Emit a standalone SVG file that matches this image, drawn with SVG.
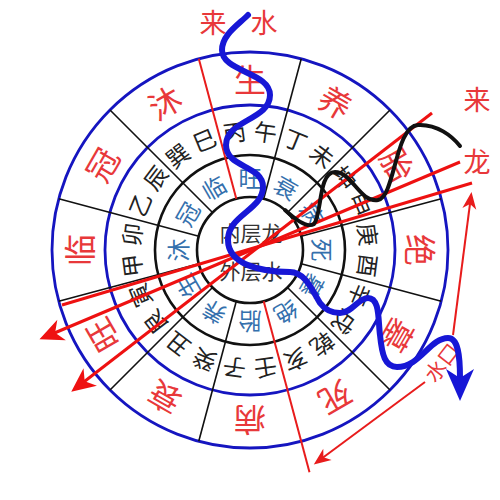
<svg xmlns="http://www.w3.org/2000/svg" width="500" height="500" viewBox="0 0 500 500">
<style>
.bc{fill:none;stroke:#1515c0;stroke-width:2.8}
.kc{fill:none;stroke:#111;stroke-width:2.6}
.dv{stroke:#111;stroke-width:1.6}
.rd{stroke:#e81c1c;stroke-width:2}
.t{font-family:"Noto Sans CJK SC","Noto Sans",sans-serif;text-anchor:middle;dominant-baseline:central}
.o{font-size:32px;fill:#e8383a}
.m{font-size:23px;fill:#222}
.i{font-size:23px;fill:#3470ad}
.c{font-size:21px;fill:#333}
.lb{font-size:27px;fill:#e8383a}
.ar{stroke:#ee1111;stroke-width:3;fill:none}
.ar2{stroke:#e81c1c;stroke-width:2;fill:none}
</style>
<defs>
<marker id="ah" markerUnits="userSpaceOnUse" viewBox="-26 -12 28 24" markerWidth="28" markerHeight="24" refX="-6" refY="0" orient="auto">
<path d="M0,0 L-24,-11 L-17,0 L-24,11 Z" fill="#ee1111"/>
</marker>
<marker id="ah2" markerUnits="userSpaceOnUse" viewBox="-18 -9 20 18" markerWidth="20" markerHeight="18" refX="-4" refY="0" orient="auto">
<path d="M0,0 L-17,-7 L-12,0 L-17,7 Z" fill="#e81c1c"/>
</marker>
</defs>
<rect width="500" height="500" fill="#fff"/>
<g id="rings">
<circle class="bc" cx="250" cy="250" r="198"/>
<circle class="bc" cx="250" cy="250" r="145"/>
<circle class="kc" cx="250" cy="250" r="95"/>
<circle class="kc" cx="250" cy="250" r="53"/>
</g>
<g id="dividers">
<line class="dv" x1="250" y1="197" x2="250" y2="52" transform="rotate(15 250 250)"/>
<line class="dv" x1="250" y1="197" x2="250" y2="52" transform="rotate(45 250 250)"/>
<line class="dv" x1="250" y1="197" x2="250" y2="52" transform="rotate(75 250 250)"/>
<line class="dv" x1="250" y1="197" x2="250" y2="52" transform="rotate(105 250 250)"/>
<line class="dv" x1="250" y1="197" x2="250" y2="52" transform="rotate(135 250 250)"/>
<line class="dv" x1="250" y1="197" x2="250" y2="52" transform="rotate(195 250 250)"/>
<line class="dv" x1="250" y1="197" x2="250" y2="52" transform="rotate(225 250 250)"/>
<line class="dv" x1="250" y1="197" x2="250" y2="52" transform="rotate(255 250 250)"/>
<line class="dv" x1="250" y1="197" x2="250" y2="52" transform="rotate(285 250 250)"/>
<line class="dv" x1="250" y1="197" x2="250" y2="52" transform="rotate(315 250 250)"/>
<line class="rd" x1="236.3" y1="198.8" x2="198.8" y2="58.7"/>
<line class="rd" x1="263.7" y1="301.2" x2="309.5" y2="472.2"/>
</g>
<g id="outer-ring">
<text class="t o" x="250" y="78">生</text>
<text class="t o" x="250" y="78" transform="rotate(30 250 250)">养</text>
<text class="t o" x="250" y="78" transform="rotate(60 250 250)">胎</text>
<text class="t o" x="250" y="78" transform="rotate(90 250 250)">绝</text>
<text class="t o" x="250" y="78" transform="rotate(120 250 250)">墓</text>
<text class="t o" x="250" y="78" transform="rotate(150 250 250)">死</text>
<text class="t o" x="250" y="78" transform="rotate(180 250 250)">病</text>
<text class="t o" x="250" y="78" transform="rotate(210 250 250)">衰</text>
<text class="t o" x="250" y="78" transform="rotate(240 250 250)">旺</text>
<text class="t o" x="250" y="78" transform="rotate(270 250 250)">临</text>
<text class="t o" x="250" y="78" transform="rotate(300 250 250)">冠</text>
<text class="t o" x="250" y="78" transform="rotate(330 250 250)">沐</text>
</g>
<g id="mountain-ring">
<text class="t m" x="250" y="130" transform="rotate(-7.5 250 250)">丙</text>
<text class="t m" x="250" y="130" transform="rotate(7.5 250 250)">午</text>
<text class="t m" x="250" y="130" transform="rotate(22.5 250 250)">丁</text>
<text class="t m" x="250" y="130" transform="rotate(37.5 250 250)">未</text>
<text class="t m" x="250" y="130" transform="rotate(52.5 250 250)">坤</text>
<text class="t m" x="250" y="130" transform="rotate(67.5 250 250)">申</text>
<text class="t m" x="250" y="130" transform="rotate(82.5 250 250)">庚</text>
<text class="t m" x="250" y="130" transform="rotate(97.5 250 250)">酉</text>
<text class="t m" x="250" y="130" transform="rotate(112.5 250 250)">辛</text>
<text class="t m" x="250" y="130" transform="rotate(127.5 250 250)">戌</text>
<text class="t m" x="250" y="130" transform="rotate(142.5 250 250)">乾</text>
<text class="t m" x="250" y="130" transform="rotate(157.5 250 250)">亥</text>
<text class="t m" x="250" y="130" transform="rotate(172.5 250 250)">壬</text>
<text class="t m" x="250" y="130" transform="rotate(187.5 250 250)">子</text>
<text class="t m" x="250" y="130" transform="rotate(202.5 250 250)">癸</text>
<text class="t m" x="250" y="130" transform="rotate(217.5 250 250)">丑</text>
<text class="t m" x="250" y="130" transform="rotate(232.5 250 250)">艮</text>
<text class="t m" x="250" y="130" transform="rotate(247.5 250 250)">寅</text>
<text class="t m" x="250" y="130" transform="rotate(262.5 250 250)">甲</text>
<text class="t m" x="250" y="130" transform="rotate(277.5 250 250)">卯</text>
<text class="t m" x="250" y="130" transform="rotate(292.5 250 250)">乙</text>
<text class="t m" x="250" y="130" transform="rotate(307.5 250 250)">辰</text>
<text class="t m" x="250" y="130" transform="rotate(322.5 250 250)">巽</text>
<text class="t m" x="250" y="130" transform="rotate(337.5 250 250)">巳</text>
</g>
<g id="inner-ring">
<text class="t i" x="250" y="177">旺</text>
<text class="t i" x="250" y="177" transform="rotate(30 250 250)">衰</text>
<text class="t i" x="250" y="177" transform="rotate(60 250 250)">病</text>
<text class="t i" x="250" y="177" transform="rotate(90 250 250)">死</text>
<text class="t i" x="250" y="177" transform="rotate(120 250 250)">墓</text>
<text class="t i" x="250" y="177" transform="rotate(150 250 250)">绝</text>
<text class="t i" x="250" y="177" transform="rotate(180 250 250)">胎</text>
<text class="t i" x="250" y="177" transform="rotate(210 250 250)">养</text>
<text class="t i" x="250" y="177" transform="rotate(240 250 250)">生</text>
<text class="t i" x="250" y="177" transform="rotate(270 250 250)">沐</text>
<text class="t i" x="250" y="177" transform="rotate(300 250 250)">冠</text>
<text class="t i" x="250" y="177" transform="rotate(330 250 250)">临</text>
</g>
<g id="center">
<text class="t c" x="251" y="232">内层龙</text>
<text class="t c" x="251" y="270">外层水</text>
</g>
<g id="labels">
<text class="t lb" x="213" y="21">来</text>
<text class="t lb" x="264" y="21">水</text>
<text class="t lb" x="477" y="98">来</text>
<text class="t lb" x="477" y="160">龙</text>
<text class="t" style="font-size:21px;fill:#e8383a" x="441" y="362" transform="rotate(-52 441 362)">水口</text>
</g>
<g id="connectors">
<line class="ar" x1="432" y1="113" x2="76" y2="388" marker-end="url(#ah)"/>
<line class="ar" x1="460" y1="162" x2="45" y2="337" marker-end="url(#ah)"/>
<line class="ar" x1="472" y1="183" x2="62" y2="305"/>
<line class="ar2" x1="453" y1="335" x2="471" y2="196" marker-end="url(#ah2)"/>
<line class="ar2" x1="425" y1="382" x2="317" y2="462" marker-end="url(#ah2)"/>
<path d="M285,210 C298,222 308,228 314,224 C322,215 318,172 335,172 C352,172 360,203 378,200 C395,197 395,126 418,125 C437,124 452,136 460,146" fill="none" stroke="#111" stroke-width="4" stroke-linecap="round"/>
<path d="M248,15 C238,25 222,35 222,50 C222,72 270,72 270,95 C270,120 226,120 226,145 C226,168 263,165 263,187 C263,210 228,215 228,240 C228,265 262,272 290,272 C305,272 312,290 320,303 C326,311 333,313 340,313 C352,313 358,298 368,298 C380,298 378,320 380,335 C382,355 385,367 397,367 C420,367 430,338 448,338 C458,338 460,355 460,378" fill="none" stroke="#1717d6" stroke-width="6" stroke-linecap="round"/>
<path d="M446,369 L460,378 L474,369 L460,401 Z" fill="#1717d6"/>
</g>
</svg>
